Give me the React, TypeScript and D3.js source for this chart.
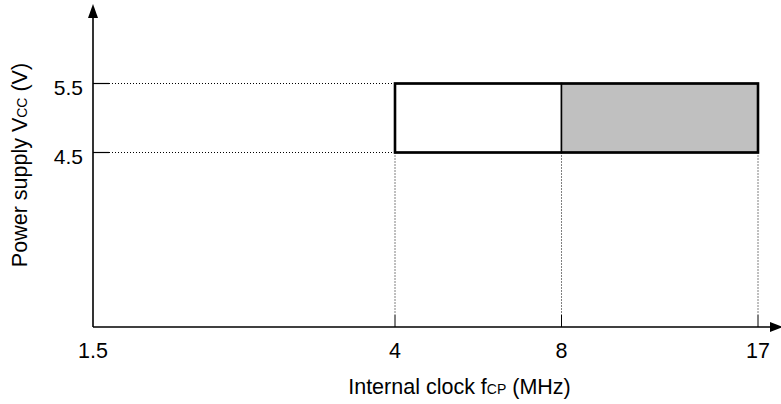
import React from "react";
import * as d3 from "d3";

const xTickValues = [1.5, 4, 8, 17];
const xTickLabels = ["1.5", "4", "8", "17"];
const yTickValues = [4.5, 5.5];
const yTickLabels = ["4.5", "5.5"];
// operating regions: [fromMHz, toMHz, vMin, vMax, fill]
const regionStart = [4, 8];
const regionEnd = [8, 17];
const regionVMin = [4.5, 4.5];
const regionVMax = [5.5, 5.5];
const regionFill = ["#ffffff", "#c0c0c0"];

const W = 781;
const H = 404;
const FONT = "Liberation Sans, Arial, Helvetica, sans-serif";

export default function App() {
  // non-uniform (piecewise) axis as in the original drawing
  const x = d3.scaleLinear().domain(xTickValues).range([93, 395, 561.5, 758]);
  const y = d3.scaleLinear().domain([4.5, 5.5]).range([152.5, 83.5]);
  const axisY = 327;
  const axisX = x(1.5);
  const boxX = x(4);

  return (
    <div style={{ position: "absolute", left: 0, top: 0 }}>
      <svg width={W} height={H} style={{ display: "block", background: "#fff" }} fontFamily={FONT}>
        {/* regions */}
        {regionStart.map((s, i) => (
          <rect
            key={"r" + i}
            x={x(s)}
            y={y(regionVMax[i])}
            width={x(regionEnd[i]) - x(s)}
            height={y(regionVMin[i]) - y(regionVMax[i])}
            fill={regionFill[i]}
            stroke="#000"
            strokeWidth={1.5}
          />
        ))}
        {/* outer thick border */}
        <rect
          x={x(regionStart[0])}
          y={y(5.5)}
          width={x(17) - x(regionStart[0])}
          height={y(4.5) - y(5.5)}
          fill="none"
          stroke="#000"
          strokeWidth={2.6}
        />
        {/* horizontal guides */}
        {yTickValues.map((v, i) => (
          <g key={"yg" + i}>
            <line x1={axisX} x2={axisX + 16} y1={y(v)} y2={y(v)} stroke="#000" strokeWidth={1.2} />
            <line x1={axisX + 16} x2={boxX} y1={y(v)} y2={y(v)} stroke="#000" strokeWidth={1} strokeDasharray="1 2" />
            <text x={axisX - 10} y={y(v) + 11} textAnchor="end" fontSize={21} fill="#000">
              {yTickLabels[i]}
            </text>
          </g>
        ))}
        {/* vertical guides */}
        {xTickValues.slice(1).map((v, i) => (
          <g key={"xg" + i}>
            <line x1={x(v)} x2={x(v)} y1={y(4.5)} y2={axisY - 12} stroke="#000" strokeWidth={1} strokeDasharray="1 2" />
            <line x1={x(v)} x2={x(v)} y1={axisY - 12} y2={axisY} stroke="#000" strokeWidth={1} />
          </g>
        ))}
        {xTickValues.map((v, i) => (
          <text key={"xt" + i} x={x(v)} y={axisY + 31} textAnchor="middle" fontSize={21.5} fill="#000">
            {xTickLabels[i]}
          </text>
        ))}
        {/* axes */}
        <line x1={axisX} x2={axisX} y1={16} y2={axisY} stroke="#000" strokeWidth={1.6} />
        <line x1={axisX} x2={772} y1={axisY} y2={axisY} stroke="#000" strokeWidth={1.6} />
        <path d={`M${axisX},4 L${axisX - 5},18 L${axisX + 5},18 Z`} fill="#000" />
        <path d={`M783,${axisY} L770,${axisY - 5} L770,${axisY + 5} Z`} fill="#000" />
        {/* axis titles */}
        <text x={459.5} y={394} textAnchor="middle" fontSize={21.5} fill="#000">
          Internal clock f<tspan fontSize={14}>CP</tspan> (MHz)
        </text>
        <text
          transform={`translate(27,165) rotate(-90)`}
          textAnchor="middle"
          fontSize={21.5}
          fill="#000"
        >
          Power supply V<tspan fontSize={14}>CC</tspan> (V)
        </text>
      </svg>
    </div>
  );
}
